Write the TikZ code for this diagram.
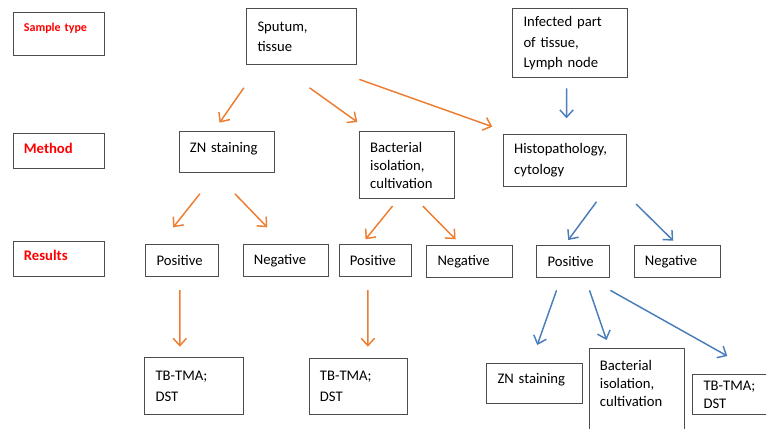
\documentclass[tikz,border=0pt]{standalone}
\usepackage{fontspec}
\setmainfont{Carlito}
\usetikzlibrary{arrows.meta}
\definecolor{arroworange}{HTML}{ED7D31}
\definecolor{arrowblue}{HTML}{4A7EBB}
\definecolor{labelred}{HTML}{FF0000}

\begin{document}
\begin{tikzpicture}[
    x=0.75pt, y=-0.75pt,
    font=\fontsize{11pt}{15.5pt}\selectfont,
    cell/.style={draw=black!70, line width=0.8pt, anchor=north west, align=left,
      inner xsep=8pt, inner ysep=2pt},
    rowlabel/.style={cell, text width=52.25pt, text=labelred,
      font=\fontsize{11pt}{13pt}\selectfont\bfseries, text height=8pt, text depth=5pt},
    result/.style={cell, minimum height=24pt},
    tight/.style={font=\fontsize{11pt}{13.7pt}\selectfont},
    oarrow/.style={-{Straight Barb[length=5.5pt,width=10pt]}, line width=1.1pt, draw=arroworange},
    barrow/.style={oarrow, draw=arrowblue}
  ]
    \useasboundingbox (0,0) rectangle (766,428);

    \node[rowlabel, font=\fontsize{9pt}{11pt}\selectfont\bfseries, minimum height=32.25pt,
      text height=7pt, text depth=11.8pt] (sampletype) at (12.7,12.3) {Sample type};
    \node[rowlabel, minimum height=26.25pt] (method) at (12.7,133.3) {Method};
    \node[rowlabel, minimum height=26.5pt] (results) at (12.7,240.7) {Results};

    \node[cell, text width=66.5pt, minimum height=41.8pt] (sputum) at (246.3,8.3) {Sputum,\\tissue};
    \node[cell, text width=70.25pt, minimum height=51.75pt] (infected) at (512.3,8.3) {Infected part\\of tissue,\\Lymph node};

    \node[cell, text width=55.5pt, minimum height=30.3pt, text height=8pt, text depth=8pt] (znmethod) at (178.7,131.3) {ZN staining};
    \node[cell, tight, text width=55.25pt, minimum height=50.25pt] (isolation) at (359,131.3) {Bacterial\\isolation,\\cultivation};
    \node[cell, text width=76.5pt, minimum height=39.2pt] (histo) at (503,133.7) {Histopathology,\\cytology};

    \node[result, text width=38.75pt] (pos1) at (145.3,244) {Positive};
    \node[result, text width=48.2pt] (neg1) at (242.7,244) {Negative};
    \node[result, text width=38.45pt] (pos2) at (338.7,244) {Positive};
    \node[result, text width=48.5pt] (neg2) at (426.3,245) {Negative};
    \node[result, text width=38.75pt] (pos3) at (536.3,245) {Positive};
    \node[result, text width=49pt] (neg3) at (633.7,244.7) {Negative};

    \node[cell, text width=58pt, minimum height=42.75pt] (tbtma1) at (144.3,357.3) {TB-TMA;\\DST};
    \node[cell, text width=58pt, minimum height=42.2pt] (tbtma2) at (308.7,357.7) {TB-TMA;\\DST};
    \node[cell, text width=55.55pt, minimum height=30pt, text height=8pt, text depth=8pt] (znresult) at (486.3,363.3) {ZN staining};
    \node[cell, tight, text width=55.7pt, minimum height=65.25pt] (isolation2) at (588.7,348.3) {Bacterial\\isolation,\\cultivation\\\mbox{}};
    \node[cell, font=\fontsize{11pt}{13pt}\selectfont, text width=57.5pt, minimum height=29.8pt] (tbtma3) at (692.3,374.3) {TB-TMA;\\DST};

    \draw[oarrow] ([shift={(-58,22.7)}]sputum.south) -- ([shift={(-7.35,-8.6)}]znmethod.north);
    \draw[oarrow] ([shift={(7.7,22.7)}]sputum.south) -- ([shift={(-1.7,-9.3)}]isolation.north west);
    \draw[oarrow] ([shift={(2,14.3)}]sputum.south east) -- ([shift={(-10.7,-7)}]histo.north west);
    \draw[barrow] ([shift={(-3.8,10)}]infected.south) -- ([shift={(1.35,-15.4)}]histo.north);

    \draw[oarrow] ([shift={(-27,21)}]znmethod.south) -- ([shift={(-9.1,-16.7)}]pos1.north);
    \draw[oarrow] ([shift={(8,21)}]znmethod.south) -- ([shift={(-18.8,-16.7)}]neg1.north);
    \draw[oarrow] ([shift={(-14.5,6.7)}]isolation.south) -- ([shift={(-10,-4.7)}]pos2.north);
    \draw[oarrow] ([shift={(15.8,6.7)}]isolation.south) -- ([shift={(-14.3,-5.7)}]neg2.north);
    \draw[barrow] ([shift={(31.35,14.7)}]histo.south) -- ([shift={(-5.1,-5)}]pos3.north);
    \draw[barrow] ([shift={(8.7,17)}]histo.south east) -- ([shift={(-4.3,-4)}]neg3.north);

    \draw[oarrow] ([shift={(-2.5,13)}]pos1.south) -- ([shift={(-14.35,-10.6)}]tbtma1.north);
    \draw[oarrow] ([shift={(-7.7,13)}]pos2.south) -- ([shift={(9.3,-11)}]tbtma2.north);
    \draw[barrow] ([shift={(-16.8,12.3)}]pos3.south) -- ([shift={(2.7,-18.3)}]znresult.north);
    \draw[barrow] ([shift={(16.2,12.3)}]pos3.south) -- ([shift={(-30.5,-8.3)}]isolation2.north);
    \draw[barrow] ([shift={(0,12.3)}]pos3.south east) -- ([shift={(35,-18.3)}]tbtma3.north west);
\end{tikzpicture}
\end{document}
